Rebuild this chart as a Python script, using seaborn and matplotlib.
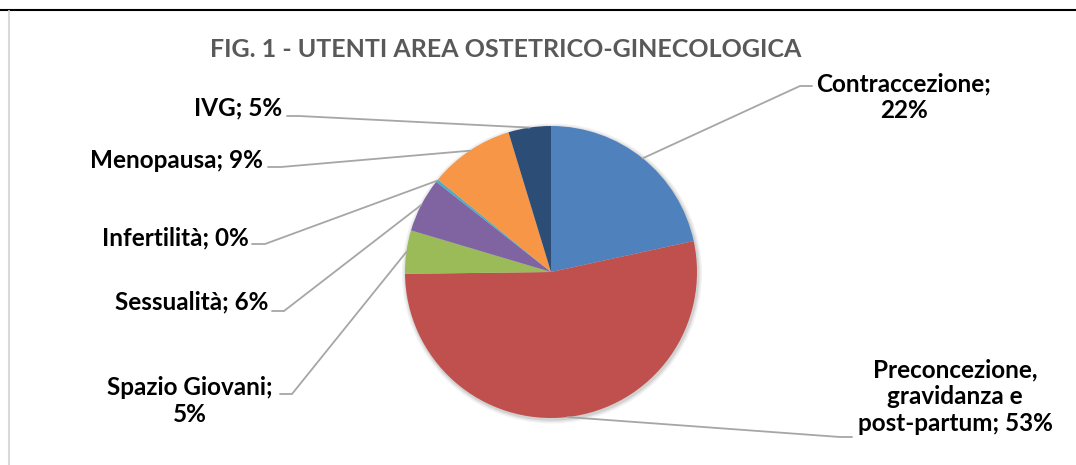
import numpy as np
import matplotlib
matplotlib.use("Agg")
import matplotlib.pyplot as plt
from matplotlib.lines import Line2D
import seaborn as sns

# ---- data ----
categories = ["Contraccezione", "Preconcezione, gravidanza e post-partum", "Spazio Giovani",
              "Sessualità", "Infertilità", "Menopausa", "IVG"]
shares = [21.6, 53.2, 4.8, 6.0, 0.3, 9.4, 4.7]
label_texts = ["Contraccezione;\n22%", "Preconcezione,\ngravidanza e\npost-partum; 53%",
               "Spazio Giovani;\n5%", "Sessualità; 6%", "Infertilità; 0%",
               "Menopausa; 9%", "IVG; 5%"]
title = "FIG. 1 - UTENTI AREA OSTETRICO-GINECOLOGICA"

colors = sns.color_palette(["#4F81BD", "#C0504D", "#9BBB59", "#8064A2",
                            "#4BACC6", "#F79646", "#2C4D75"])

sns.set_theme(style="white")
plt.rcParams["font.family"] = ["Lato", "DejaVu Sans"]

W, H = 1076, 465
fig = plt.figure(figsize=(W / 100, H / 100), dpi=100)
fig.patch.set_facecolor("white")
ax = fig.add_axes([0, 0, 1, 1])

def fy(y):
    return H - y

cx, cy, r = 551, 272, 146

# soft shadow
for k, a in [(4, 0.05), (2.5, 0.06), (1.2, 0.08)]:
    ax.add_patch(plt.Circle((cx + 1, fy(cy) - 1.5), r + k, color="black", alpha=a, lw=0, zorder=1))

wedges, _ = ax.pie(shares, colors=colors, startangle=90, counterclock=False,
                   center=(cx, fy(cy)), radius=r, frame=True,
                   wedgeprops=dict(linewidth=0, zorder=2))
ax.set_xlim(0, W)
ax.set_ylim(0, H)
ax.set_axis_off()

# label layout: elbow point, segment end near text, text anchor, alignment
layout = [
    dict(elbow=(800, 86), end=(812, 86), txt=(904, 97), ha="center"),
    dict(elbow=(840, 437), end=(852, 437), txt=(955, 397), ha="center"),
    dict(elbow=(292, 394), end=(280, 394), txt=(190, 401), ha="center"),
    dict(elbow=(284, 311), end=(272, 311), txt=(268, 302), ha="right"),
    dict(elbow=(265, 244), end=(252, 244), txt=(249, 238), ha="right"),
    dict(elbow=(281, 167), end=(268, 167), txt=(263, 160), ha="right"),
    dict(elbow=(299, 116), end=(287, 116), txt=(282, 108), ha="right"),
]

for w, lab, L in zip(wedges, label_texts, layout):
    mid = np.deg2rad((w.theta1 + w.theta2) / 2)
    px = cx + r * np.cos(mid)
    py = fy(cy) + r * np.sin(mid)
    ex, ey = L["elbow"]
    sx, sy = L["end"]
    ax.plot([px, ex, sx], [py, fy(ey), fy(sy)], color="#A6A6A6", lw=1.3,
            solid_joinstyle="miter", zorder=3)
    ax.text(L["txt"][0], fy(L["txt"][1]), lab, ha=L["ha"], va="center",
            fontsize=17.5, fontweight="bold", color="#000000", linespacing=1.2, zorder=4)

ax.text(506, fy(50), title, ha="center", va="center", fontsize=18,
        fontweight="bold", color="#595959")

# outer frame fragments
fig.add_artist(Line2D([0, 1], [1 - 10.5 / H, 1 - 10.5 / H], color="black", lw=1.5))
fig.add_artist(Line2D([9 / W, 9 / W], [0, 1 - 11 / H], color="#D9D9D9", lw=1.5))

fig.savefig("out.png", dpi=100, facecolor="white")
